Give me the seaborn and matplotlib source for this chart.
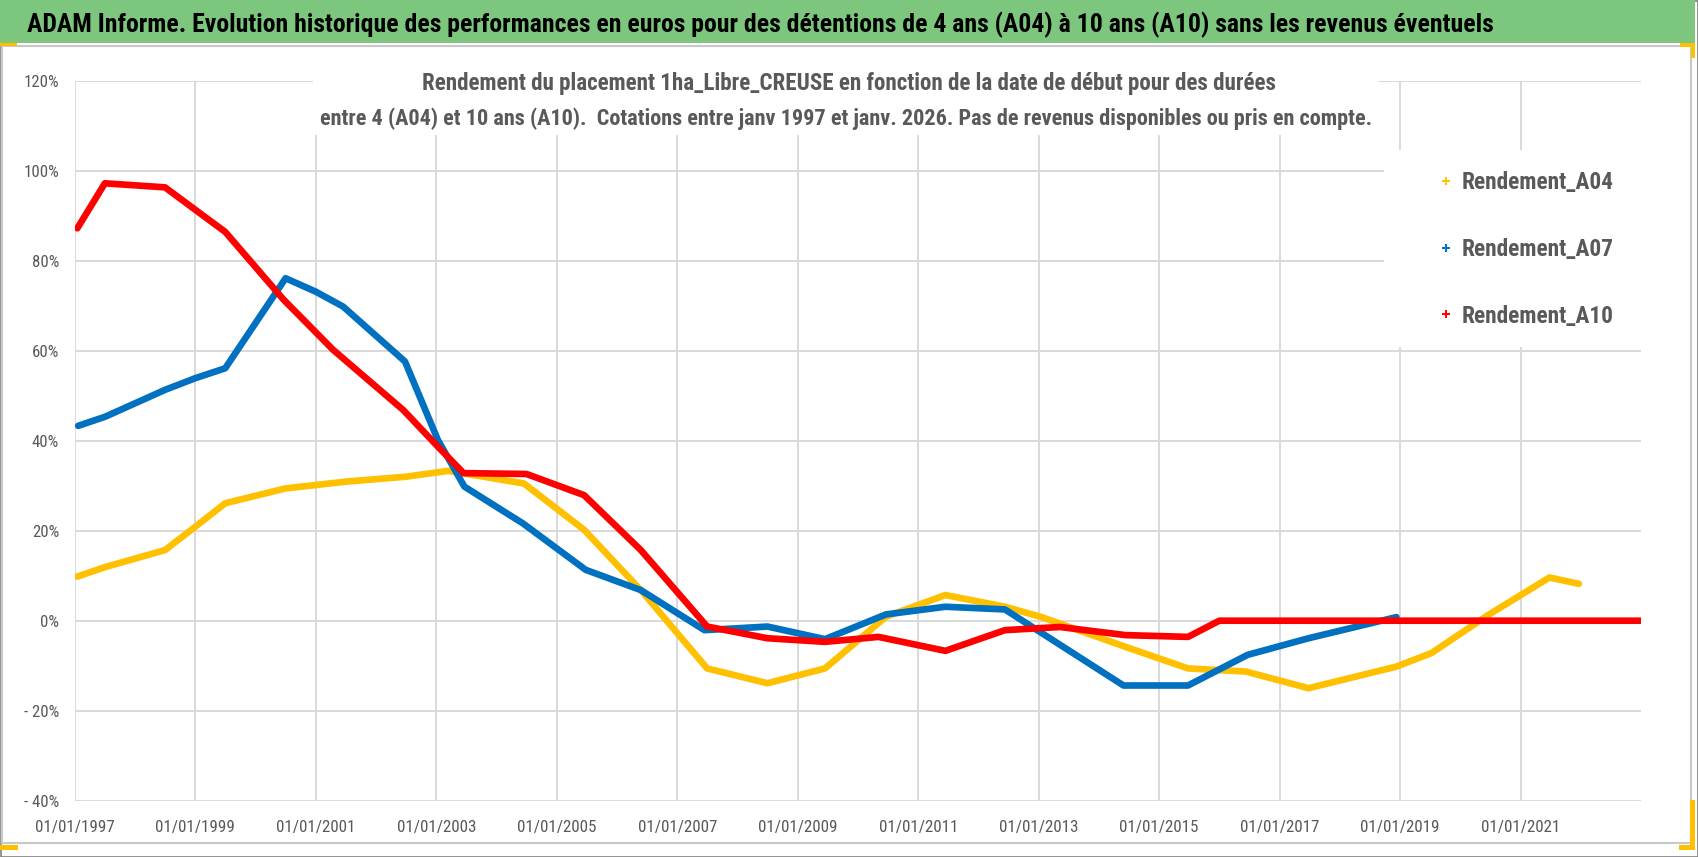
import pandas as pd
import seaborn as sns
import matplotlib.pyplot as plt
import matplotlib.dates as mdates
from matplotlib import font_manager
from matplotlib.lines import Line2D
from matplotlib.patches import Rectangle

# values (rendement en %)
dates_a04 = ["1997-01-15", "1997-07-01", "1998-07-01", "1999-01-01", "1999-07-01",
             "2000-07-01", "2001-07-01", "2002-07-01", "2003-03-15", "2004-06-15",
             "2005-06-15", "2006-05-25", "2007-07-01", "2008-07-01", "2009-06-15",
             "2010-06-20", "2011-06-15", "2012-06-10", "2013-01-10", "2014-06-10",
             "2015-06-25", "2016-06-10", "2017-06-25", "2018-12-10", "2019-07-10",
             "2020-06-20", "2021-06-25", "2021-12-20"]
rend_a04 = [9.8, 11.9, 15.7, 20.9, 26.1, 29.4, 30.9, 32.0, 33.3, 30.5, 20.2, 6.8,
            -10.6, -13.9, -10.6, 0.9, 5.7, 3.1, 0.9, -5.8, -10.6, -11.3, -15.0,
            -10.2, -7.2, 1.3, 9.6, 8.2]

dates_a07 = ["1997-01-20", "1997-07-01", "1998-07-01", "1999-01-01", "1999-07-01",
             "2000-07-01", "2001-01-01", "2001-06-15", "2002-06-25", "2003-01-10",
             "2003-06-20", "2004-06-10", "2005-06-25", "2006-05-25", "2007-06-15",
             "2008-07-01", "2009-06-15", "2010-06-20", "2011-06-15", "2012-06-10",
             "2014-05-30", "2015-06-25", "2016-06-20", "2017-06-25", "2018-12-10"]
rend_a07 = [43.3, 45.3, 51.3, 53.9, 56.1, 76.1, 73.1, 69.8, 57.6, 40.2, 29.8, 21.6,
            11.3, 6.8, -2.1, -1.3, -4.1, 1.4, 3.1, 2.5, -14.4, -14.4, -7.6, -3.9, 0.8]

dates_a10 = ["1997-01-15", "1997-07-01", "1998-07-01", "1999-01-01", "1999-07-01",
             "2000-06-20", "2001-04-15", "2002-06-15", "2003-01-10", "2003-06-15",
             "2004-07-01", "2005-06-15", "2006-05-25", "2007-07-01", "2008-07-01",
             "2009-06-15", "2010-05-05", "2011-06-15", "2012-06-10", "2013-05-10",
             "2014-06-10", "2015-06-25", "2016-01-01", "2022-12-31"]
rend_a10 = [87.2, 97.2, 96.3, 91.3, 86.4, 71.3, 60.2, 46.8, 38.7, 32.8, 32.6, 27.9,
            15.7, -1.3, -3.9, -4.7, -3.6, -6.7, -2.1, -1.4, -3.2, -3.6, 0.0, 0.0]

series_names = ["Rendement_A04", "Rendement_A07", "Rendement_A10"]
colors = ["#FFC000", "#0070C0", "#FF0000"]

y_ticks = [-40, -20, 0, 20, 40, 60, 80, 100, 120]
y_labels = ["- 40%", "- 20%", "0%", "20%", "40%", "60%", "80%", "100%", "120%"]
x_tick_years = list(range(1997, 2022, 2))

title = ("ADAM Informe. Evolution historique des performances en euros pour des "
         "détentions de 4 ans (A04) à 10 ans (A10) sans les revenus éventuels")
subtitle_1 = ("Rendement du placement 1ha_Libre_CREUSE en fonction de la date de "
              "début pour des durées")
subtitle_2 = ("entre 4 (A04) et 10 ans (A10).  Cotations entre janv 1997 et janv. 2026. "
              "Pas de revenus disponibles ou pris en compte.")

df = pd.concat([
    pd.DataFrame({"date": pd.to_datetime(d), "rendement": v, "serie": n})
    for d, v, n in zip([dates_a04, dates_a07, dates_a10],
                       [rend_a04, rend_a07, rend_a10], series_names)
], ignore_index=True)

sns.set_theme(style="whitegrid")


def stretch_of(f):
    s = f.stretch
    if isinstance(s, str):
        return {"ultra-condensed": 100, "extra-condensed": 200, "condensed": 300,
                "semi-condensed": 400, "normal": 500}.get(s, 500)
    return s


def pick_fonts():
    # look for a narrow sans (closest to the Calibri of the reference)
    cands = {}
    for f in font_manager.fontManager.ttflist:
        if f.style != "normal":
            continue
        narrow = ("narrow" in f.name.lower() or "condensed" in f.name.lower()
                  or stretch_of(f) < 500 or "condensed" in f.fname.lower()
                  or "narrow" in f.fname.lower())
        if not narrow:
            continue
        key = (f.name, stretch_of(f))
        w = f.weight if isinstance(f.weight, int) else {"normal": 400, "regular": 400,
                                                        "bold": 700}.get(f.weight, 400)
        d = cands.setdefault(key, {})
        if w in (400, 700):
            d.setdefault(w, f.fname)
    order = ["Liberation Sans Narrow", "Roboto Condensed", "Open Sans Condensed",
             "Noto Sans", "Open Sans", "DejaVu Sans"]
    for name in order:
        for (n, st), d in sorted(cands.items(), key=lambda kv: kv[0][1]):
            if n == name and 400 in d and 700 in d:
                return font_manager.FontProperties(fname=d[400]), \
                    font_manager.FontProperties(fname=d[700])
    for (n, st), d in cands.items():
        if 400 in d and 700 in d:
            return font_manager.FontProperties(fname=d[400]), \
                font_manager.FontProperties(fname=d[700])
    return (font_manager.FontProperties(family="Lato", weight="normal"),
            font_manager.FontProperties(family="Lato", weight="bold"))


font_reg, font_bold = pick_fonts()

W, H = 1698, 857
fig = plt.figure(figsize=(W / 100, H / 100), dpi=100)
fig.patch.set_facecolor("white")
renderer = fig.canvas.get_renderer()


def fit_size(s, target_px, fp):
    p = fp.copy()
    p.set_size(10)
    t = fig.text(0, 0, s, fontproperties=p)
    w = t.get_window_extent(renderer).width
    t.remove()
    return 10 * target_px / w


def sized(fp, size):
    p = fp.copy()
    p.set_size(size)
    return p


def px_rect(x0, y0, x1, y1, **kw):
    return Rectangle((x0 / W, 1 - y1 / H), (x1 - x0) / W, (y1 - y0) / H,
                     transform=fig.transFigure, **kw)


ax = fig.add_axes([75 / W, 1 - 800.7 / H, (1641 - 75) / W, (800.7 - 80.7) / H])
ax.set_facecolor("white")

sns.lineplot(data=df, x="date", y="rendement", hue="serie", palette=colors,
             hue_order=series_names, estimator=None, linewidth=4.8,
             solid_joinstyle="round", legend=False, ax=ax)

ax.set_xlim(pd.Timestamp("1997-01-01"), pd.Timestamp("2023-01-01"))
ax.set_ylim(-40, 120)
ax.set_yticks(y_ticks)
ax.set_yticklabels(y_labels)
ax.set_xticks([pd.Timestamp(f"{y}-01-01") for y in x_tick_years])
ax.xaxis.set_major_formatter(mdates.DateFormatter("%d/%m/%Y"))
ax.set_xlabel("")
ax.set_ylabel("")
for s in ax.spines.values():
    s.set_visible(False)
ax.grid(True, color="#D9D9D9", linewidth=1.4)

ax.tick_params(axis="both", length=0, labelcolor="#595959")
ax.tick_params(axis="y", pad=11.5)
ax.tick_params(axis="x", pad=14)
yfp = sized(font_reg, fit_size("120%", 35, font_reg))
xfp = sized(font_reg, fit_size("01/01/1997", 79, font_reg))
for lab in ax.get_yticklabels():
    lab.set_fontproperties(yfp)
for lab in ax.get_xticklabels():
    lab.set_fontproperties(xfp)

# frame, green title band and the yellow selection handles
fig.patches.append(px_rect(0.5, 0.5, 1697.5, 856.5, fill=False, edgecolor="#808080", linewidth=1.2))
fig.patches.append(px_rect(0, 0, 1695, 43, facecolor="#7DC67E", edgecolor="none"))
fig.patches.append(px_rect(1.5, 46, 1691, 843, fill=False, edgecolor="#C8C8C8", linewidth=1.5))
for x0, y0, x1, y1 in [(0, 43, 17, 46), (1680, 43, 1695, 47), (1691, 43, 1695, 58),
                       (0, 845, 18, 850), (1679, 845, 1695, 850), (1690, 800, 1695, 850)]:
    fig.patches.append(px_rect(x0, y0, x1, y1, facecolor="#FFC000", edgecolor="none"))

# white boxes behind subtitle and legend
fig.patches.append(px_rect(313, 70, 1378, 135, facecolor="white", edgecolor="none", zorder=1))
fig.patches.append(px_rect(1384, 150, 1645, 347, facecolor="white", edgecolor="none", zorder=1))

fig.text(27 / W, 1 - 24.5 / H, title,
         fontproperties=sized(font_bold, fit_size(title, 1468, font_bold)),
         color="black", ha="left", va="center")
fig.text(849 / W, 1 - 83.5 / H, subtitle_1,
         fontproperties=sized(font_bold, fit_size(subtitle_1, 857, font_bold)),
         color="#595959", ha="center", va="center", zorder=3)
fig.text(846 / W, 1 - 118.5 / H, subtitle_2,
         fontproperties=sized(font_bold, fit_size(subtitle_2, 1054, font_bold)),
         color="#595959", ha="center", va="center", zorder=3)

lsize = fit_size("Rendement_A04", 151, font_bold)
fs_px = lsize * 100 / 72
handles = [Line2D([], [], color=c, marker="+", linestyle="None", markersize=6,
                  markeredgewidth=1.4) for c in colors]


def make_legend(spacing):
    lg = fig.legend(handles, series_names, loc="center left",
                    bbox_to_anchor=((1434 - 0.4 * fs_px) / W, 1 - 249.5 / H),
                    frameon=False, borderpad=0, handlelength=0.8, handletextpad=0.3,
                    labelspacing=spacing, prop=sized(font_bold, lsize))
    for t in lg.get_texts():
        t.set_color("#595959")
    return lg


# rows of the reference legend are 66.5 px apart: measure once and correct
spacing = (66.5 - 1.15 * fs_px) / fs_px
leg = make_legend(spacing)
fig.canvas.draw()
ys = [t.get_window_extent(renderer).y0 for t in leg.get_texts()]
pitch = (ys[0] - ys[-1]) / 2
leg.remove()
leg = make_legend(spacing + (66.5 - pitch) / fs_px)

fig.savefig("out.png", dpi=100, facecolor=fig.get_facecolor())
